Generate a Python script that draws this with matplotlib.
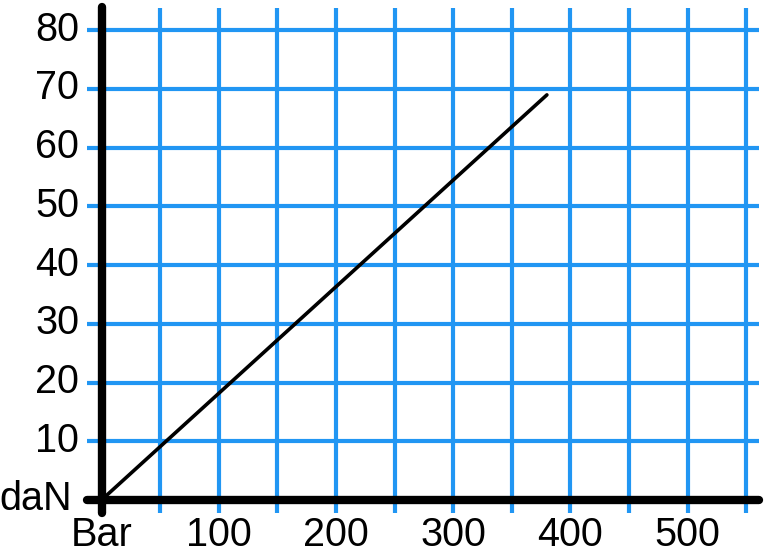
import matplotlib
matplotlib.use("Agg")
import matplotlib.pyplot as plt

# Data
pressure_bar = [0, 380]
force_dan = [0, 69]

x_grid = [50, 100, 150, 200, 250, 300, 350, 400, 450, 500, 550]
y_grid = [10, 20, 30, 40, 50, 60, 70, 80]
x_tick_vals = [0, 100, 200, 300, 400, 500]
x_tick_labels = ["Bar", "100", "200", "300", "400", "500"]
y_tick_vals = [10, 20, 30, 40, 50, 60, 70, 80]
y_tick_labels = ["10", "20", "30", "40", "50", "60", "70", "80"]
y_unit_label = "daN"

plt.rcParams['font.family'] = ['Liberation Sans', 'DejaVu Sans']

fig = plt.figure(figsize=(7.69, 5.6), dpi=100)
ax = fig.add_axes([0, 0, 1, 1])
ax.set_xlim(-86.6, 569.5)
ax.set_ylim(-10.22, 85.16)
ax.axis('off')

blue = '#2196F3'
gx0, gx1 = -12.6, 561
gy0, gy1 = -2.16, 83.75

ax.vlines(x_grid, gy0, gy1, colors=blue, linewidth=3.0, zorder=1)
ax.hlines(y_grid, gx0, gx1, colors=blue, linewidth=3.0, zorder=1)

# black axes
ax.plot([0, 0], [gy0, 83.9], color='black', linewidth=6, solid_capstyle='round', zorder=3)
ax.plot([gx0, gx1], [0, 0], color='black', linewidth=6, solid_capstyle='round', zorder=3)

# data line
ax.plot(pressure_bar, force_dan, color='black', linewidth=2.6, solid_capstyle='round', zorder=4)

fs = 28.5
for v, lab in zip(y_tick_vals, y_tick_labels):
    ax.text(-19.0, v + 0.1, lab, ha='right', va='center', fontsize=fs, color='black')
ax.text(-25.2, 0.1, y_unit_label, ha='right', va='center', fontsize=fs, color='black')
for v, lab in zip(x_tick_vals, x_tick_labels):
    ax.text(v, -6.0, lab, ha='center', va='center', fontsize=fs, color='black')

fig.savefig('out.png', dpi=100)
